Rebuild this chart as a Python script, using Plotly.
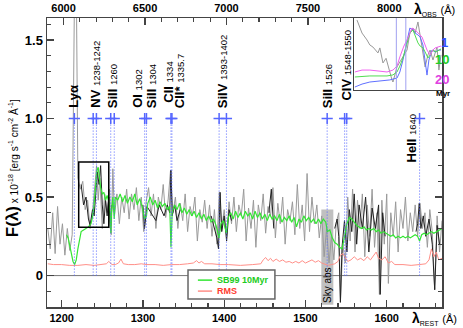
import plotly.graph_objects as go

ONE_PLUS_Z = 4.99  # observed / rest wavelength

# observed spectrum (grey), rest wavelength [A] and flux [1e-18 cgs]
wave_obs = [1183, 1186, 1189, 1192, 1195, 1198, 1201, 1204, 1207, 1210, 1213, 1216, 1218, 1220, 1223,
            1226, 1229, 1232, 1235, 1238, 1241, 1243, 1245, 1247, 1250, 1253, 1256, 1259, 1261, 1263,
            1265, 1268, 1271, 1274, 1277, 1280, 1283, 1286, 1289, 1292, 1295, 1298, 1301, 1304, 1307,
            1310, 1313, 1316, 1319, 1322, 1325, 1328, 1331, 1334, 1337, 1340, 1343, 1346, 1349, 1352,
            1355, 1358, 1361, 1364, 1367, 1370, 1373, 1376, 1379, 1382, 1385, 1388, 1391, 1394, 1397,
            1400, 1403, 1406, 1409, 1412, 1415, 1418, 1421, 1424, 1427, 1430, 1433, 1436, 1439, 1442,
            1445, 1448, 1451, 1454, 1457, 1460, 1463, 1466, 1469, 1472, 1475, 1478, 1481, 1484, 1487,
            1490, 1493, 1496, 1499, 1502, 1505, 1508, 1511, 1514, 1517, 1520, 1523, 1526, 1529, 1532,
            1535, 1538, 1541, 1543, 1546, 1549, 1552, 1555, 1558, 1561, 1564, 1567, 1570, 1573, 1576,
            1579, 1582, 1585, 1588, 1591, 1594, 1597, 1600, 1602, 1605, 1608, 1611, 1614, 1617, 1620,
            1623, 1626, 1629, 1632, 1635, 1638, 1641, 1644, 1647, 1650, 1653, 1656, 1659, 1662, 1665, 1668]
flux_obs = [0.30, 0.17, 0.40, 0.14, 0.44, 0.20, 0.33, 0.13, 0.30, 0.16, 0.26, 1.90, 1.90, 0.62, 0.55,
            0.60, 0.42, 0.48, 0.30, 0.40, 0.58, 0.70, 0.48, 0.62, 0.30, 0.52, 0.40, 0.55, 0.26, 0.68,
            0.38, 0.52, 0.33, 0.50, 0.40, 0.55, 0.36, 0.52, 0.42, 0.56, 0.35, 0.50, 0.28, 0.47, 0.56,
            0.38, 0.52, 0.30, 0.50, 0.42, 0.58, 0.37, 0.48, 0.67, 0.40, 0.50, 0.30, 0.46, 0.35, 0.52,
            0.28, 0.44, 0.38, 0.50, 0.22, 0.42, 0.34, 0.48, 0.30, 0.45, 0.25, 0.42, 0.20, 0.53, 0.30,
            0.42, 0.25, 0.47, 0.33, 0.50, 0.28, 0.45, 0.38, 0.55, 0.22, 0.43, 0.30, 0.48, 0.18, 0.45,
            0.35, 0.52, 0.27, 0.44, 0.38, 0.56, 0.24, 0.46, 0.33, 0.50, 0.20, 0.42, 0.35, 0.47, 0.26,
            0.58, 0.30, 0.45, 0.22, 0.65, 0.28, 0.50, 0.33, 0.45, 0.24, 0.38, 0.12, 0.30, 0.08, 0.25,
            0.10, 0.34, 0.40, -0.17, 0.20, 0.08, 0.50, 0.22, 0.55, 0.15, 0.48, 0.30, 0.52, 0.12, 0.45,
            0.25, 0.55, 0.18, 0.40, -0.12, 0.48, 0.20, 0.52, -0.05, 0.40, 0.25, 0.47, 0.15, 0.42, 0.30,
            0.50, 0.22, 0.40, 0.28, 0.45, 0.25, 0.46, 0.30, 0.40, 0.18, 0.42, 0.28, -0.09, 0.38, 0.15, 0.35]

# darker pieces of the spectrum (black), one list per stretch
blk_waves = [
    [1224, 1227, 1230, 1233, 1235, 1238, 1240, 1242, 1244, 1246, 1248, 1250, 1252, 1254, 1256, 1258, 1260, 1262],
    [1300, 1302, 1305, 1310, 1316, 1320, 1326, 1330, 1333, 1334.5, 1336, 1339, 1342, 1346],
    [1384, 1388, 1391, 1393, 1395, 1397, 1400, 1403, 1406, 1409],
    [1455, 1458, 1461],
    [1536, 1539, 1541, 1543, 1545, 1548, 1551, 1554, 1557, 1560, 1563, 1566, 1570, 1574, 1578, 1582,
     1586, 1590, 1592, 1595, 1598],
    [1636, 1638, 1640, 1642, 1645, 1648, 1652, 1656, 1659, 1662, 1665],
]
blk_fluxes = [
    [0.58, 0.45, 0.50, 0.36, 0.32, 0.42, 0.38, 0.55, 0.66, 0.58, 0.70, 0.45, 0.33, 0.48, 0.38, 0.50, 0.30, 0.45],
    [0.45, 0.30, 0.44, 0.40, 0.35, 0.45, 0.38, 0.45, 0.40, 0.67, 0.38, 0.45, 0.35, 0.42],
    [0.38, 0.30, 0.24, 0.17, 0.53, 0.28, 0.38, 0.22, 0.42, 0.35],
    [0.40, 0.55, 0.30],
    [0.30, 0.36, 0.25, -0.17, 0.18, 0.35, 0.15, 0.42, 0.28, 0.52, 0.20, 0.45, 0.30, 0.50, 0.15, 0.43,
     0.30, 0.45, -0.12, 0.40, 0.25],
    [0.28, 0.33, 0.46, 0.30, 0.38, 0.25, 0.36, 0.20, -0.09, 0.32, 0.20],
]

# Starburst99 10 Myr model
wave_sb99 = [1206, 1208, 1210, 1212, 1214, 1216, 1218, 1220, 1222, 1224, 1227, 1230, 1233, 1236, 1238,
             1240, 1242, 1243.5, 1245, 1246.5, 1248, 1250, 1252, 1254, 1256, 1258, 1259.5, 1260.5, 1261.5,
             1263, 1264.7, 1266, 1269, 1272, 1275, 1278, 1281, 1284, 1287, 1290, 1293, 1296, 1299, 1302,
             1304.4, 1306, 1309, 1312, 1315, 1318, 1321, 1324, 1327, 1330, 1333, 1334.5, 1336, 1339, 1342,
             1345, 1348, 1351, 1354, 1357, 1360, 1363, 1366, 1369, 1372, 1375, 1378, 1381, 1384, 1387,
             1390, 1393.7, 1396, 1399, 1402.7, 1405, 1408, 1411, 1414, 1417, 1420, 1423, 1426, 1429, 1432,
             1435, 1438, 1441, 1444, 1447, 1450, 1453, 1456, 1459, 1462, 1465, 1468, 1471, 1474, 1477,
             1480, 1483, 1486, 1489, 1492, 1495, 1498, 1501, 1504, 1507, 1510, 1513, 1516, 1519, 1522,
             1525, 1527, 1530, 1533, 1536, 1539, 1542, 1545, 1547, 1549, 1551, 1554, 1557, 1560, 1563,
             1566, 1569, 1572, 1575, 1578, 1581, 1584, 1587, 1590, 1593, 1596, 1599, 1602, 1605, 1608,
             1611, 1614, 1617, 1620, 1623, 1626, 1629, 1632, 1635, 1638, 1640.4, 1643, 1646, 1649, 1652,
             1655, 1658, 1661, 1664, 1668]
flux_sb99 = [0.26, 0.24, 0.19, 0.13, 0.09, 0.07, 0.10, 0.17, 0.24, 0.28, 0.29, 0.30, 0.31, 0.33, 0.37,
             0.46, 0.58, 0.67, 0.69, 0.63, 0.56, 0.52, 0.53, 0.48, 0.51, 0.47, 0.40, 0.27, 0.42,
             0.50, 0.36, 0.50, 0.48, 0.52, 0.47, 0.51, 0.46, 0.50, 0.47, 0.52, 0.45, 0.49, 0.44, 0.36,
             0.38, 0.46, 0.50, 0.45, 0.48, 0.43, 0.47, 0.44, 0.46, 0.42, 0.44, 0.18, 0.40, 0.45, 0.42,
             0.46, 0.40, 0.43, 0.39, 0.42, 0.38, 0.41, 0.37, 0.40, 0.36, 0.39, 0.35, 0.38, 0.34, 0.36,
             0.32, 0.24, 0.33, 0.35, 0.27, 0.37, 0.40, 0.36, 0.41, 0.37, 0.40, 0.36, 0.41, 0.38, 0.40,
             0.36, 0.41, 0.37, 0.40, 0.36, 0.39, 0.35, 0.39, 0.36, 0.38, 0.35, 0.39, 0.34, 0.37, 0.35,
             0.38, 0.34, 0.37, 0.31, 0.36, 0.34, 0.38, 0.35, 0.37, 0.34, 0.36, 0.33, 0.36, 0.33, 0.36,
             0.34, 0.28, 0.29, 0.24, 0.21, 0.20, 0.18, 0.17, 0.22, 0.28, 0.33, 0.37, 0.36, 0.34, 0.32,
             0.31, 0.30, 0.31, 0.29, 0.30, 0.29, 0.30, 0.28, 0.29, 0.27, 0.28, 0.27, 0.26, 0.25, 0.26,
             0.24, 0.25, 0.24, 0.25, 0.24, 0.25, 0.24, 0.25, 0.26, 0.25, 0.22, 0.26, 0.27, 0.26, 0.27,
             0.28, 0.27, 0.28, 0.29, 0.30]

# RMS of the spectrum
wave_rms = [1183, 1190, 1200, 1210, 1220, 1230, 1240, 1250, 1255, 1258, 1262, 1266, 1270, 1273, 1276,
            1282, 1290, 1298, 1305, 1315, 1325, 1335, 1345, 1355, 1362, 1366, 1369, 1372, 1376, 1385,
            1395, 1405, 1420, 1435, 1445, 1448, 1451, 1454, 1457, 1460, 1464, 1468, 1472, 1476, 1480,
            1484, 1488, 1492, 1496, 1500, 1504, 1508, 1512, 1516, 1520, 1524, 1528, 1532, 1536, 1540,
            1543, 1546, 1549, 1552, 1556, 1560, 1564, 1568, 1572, 1576, 1580, 1584, 1587, 1590, 1594,
            1598, 1602, 1606, 1610, 1620, 1630, 1640, 1648, 1652, 1655, 1658, 1661, 1664, 1668]
flux_rms = [0.075, 0.07, 0.07, 0.065, 0.065, 0.07, 0.065, 0.07, 0.075, 0.09, 0.07, 0.07, 0.08, 0.105, 0.075,
            0.07, 0.07, 0.075, 0.07, 0.07, 0.065, 0.07, 0.07, 0.075, 0.08, 0.095, 0.08, 0.09, 0.075, 0.075,
            0.07, 0.07, 0.065, 0.07, 0.075, 0.10, 0.115, 0.095, 0.11, 0.09, 0.105, 0.09, 0.10, 0.085, 0.09,
            0.08, 0.09, 0.08, 0.095, 0.08, 0.09, 0.10, 0.085, 0.095, 0.08, 0.07, 0.065, 0.07, 0.075, 0.09,
            0.13, 0.14, 0.11, 0.09, 0.10, 0.12, 0.10, 0.11, 0.095, 0.12, 0.10, 0.13, 0.15, 0.11, 0.10,
            0.12, 0.08, 0.09, 0.07, 0.07, 0.065, 0.07, 0.075, 0.10, 0.17, 0.12, 0.15, 0.10, 0.11]

# interstellar / stellar lines (rest wavelength)
line_waves = [1215.67, 1238.82, 1242.80, 1260.42, 1264.74, 1302.17, 1304.37, 1334.53, 1335.71,
              1393.76, 1402.77, 1526.71, 1548.20, 1550.78, 1640.42]
label_names = ["Lyα", "NV", "SiII", "OI", "SiII", "CII", "CII*", "SiIV", "SiII", "CIV", "HeII"]
label_nums = ["", "1238-1242", "1260", "1302", "1304", "1334", "1335.7", "1393-1402", "1526", "1548-1550", "1640"]
label_x = [1214.4, 1241.5, 1263.6, 1293.2, 1311.6, 1331.3, 1346.0, 1399.0, 1527.0, 1550.2, 1630.2]
label_y = [1.055, 1.055, 1.055, 1.055, 1.055, 1.087, 1.055, 1.055, 1.055, 1.10, 0.706]

sky_band = [1519.5, 1534.3]
zoom_box_x = [1221.0, 1258.0]
zoom_box_y = [0.307, 0.723]

# inset: zoom on NV for 1, 10, 20 Myr models
in_wave_obs = [1222.3, 1224.4, 1226.5, 1227.7, 1229.0, 1231.1, 1231.9, 1233.2, 1234.5, 1235.7, 1237.0,
               1237.4, 1239.1, 1240.3, 1241.6, 1243.3, 1244.5, 1245.8, 1246.7, 1247.9, 1249.6, 1250.9,
               1252.1, 1253.0, 1254.2, 1255.9, 1256.7, 1257.6]
in_flux_obs = [0.711, 0.636, 0.596, 0.567, 0.555, 0.521, 0.55, 0.463, 0.49, 0.422, 0.365,
               0.353, 0.44, 0.469, 0.498, 0.538, 0.636, 0.665, 0.636, 0.70, 0.555, 0.44,
               0.51, 0.538, 0.48, 0.555, 0.422, 0.51]
in_wave_1 = [1221.4, 1224.4, 1227.7, 1231.9, 1236.1, 1239.1, 1240.3, 1241.6, 1242.9, 1244.5, 1245.8,
             1246.7, 1247.9, 1248.8, 1250.0, 1250.9, 1251.7, 1252.5, 1253.8, 1255.1, 1256.7, 1257.6]
in_flux_1 = [0.324, 0.341, 0.353, 0.359, 0.365, 0.376, 0.411, 0.480, 0.567, 0.665, 0.654,
             0.636, 0.625, 0.613, 0.567, 0.480, 0.393, 0.480, 0.538, 0.527, 0.538, 0.538]
in_wave_10 = [1221.4, 1227.7, 1234.9, 1237.4, 1239.1, 1240.3, 1241.6, 1242.8, 1244.5, 1245.8, 1246.7,
              1247.9, 1248.8, 1250.0, 1250.9, 1252.1, 1253.0, 1254.2, 1255.5, 1256.7, 1257.6]
in_flux_10 = [0.382, 0.388, 0.388, 0.394, 0.411, 0.445, 0.492, 0.550, 0.636, 0.654, 0.619,
              0.579, 0.561, 0.550, 0.527, 0.492, 0.509, 0.538, 0.527, 0.538, 0.544]
in_wave_20 = [1221.4, 1224.4, 1227.7, 1231.9, 1234.9, 1237.4, 1239.1, 1240.3, 1242.0, 1243.3, 1244.5,
              1245.4, 1246.7, 1247.5, 1248.8, 1249.6, 1250.9, 1251.7, 1253.0, 1254.2, 1255.1, 1256.7, 1257.6]
in_flux_20 = [0.411, 0.422, 0.422, 0.417, 0.411, 0.422, 0.445, 0.498, 0.561, 0.596, 0.642,
              0.665, 0.654, 0.642, 0.625, 0.613, 0.567, 0.538, 0.509, 0.538, 0.55, 0.555, 0.561]
in_vlines = [1238.82, 1242.80]

FONT = "Liberation Sans, Arial, sans-serif"
BLUE = "#5566ff"
GREEN = "#33e633"
RED = "#ff8f88"
AXC = "#444444"

fig = go.Figure()

# join the black stretches with gaps
blk_x, blk_y = [], []
for xs, ys in zip(blk_waves, blk_fluxes):
    blk_x += xs + [None]
    blk_y += ys + [None]

fig.add_trace(go.Scatter(x=wave_obs, y=flux_obs, mode="lines", line=dict(color="#9a9a9a", width=1)))
fig.add_trace(go.Scatter(x=blk_x, y=blk_y, mode="lines", line=dict(color="#222222", width=1), connectgaps=False))
fig.add_trace(go.Scatter(x=wave_rms, y=flux_rms, mode="lines", line=dict(color=RED, width=1)))
fig.add_trace(go.Scatter(x=wave_sb99, y=flux_sb99, mode="lines", line=dict(color=GREEN, width=1.2)))

# dotted line markers from 0 up to 1.0
vx, vy = [], []
for w in line_waves:
    vx += [w, w, None]
    vy += [0, 1.0, None]
fig.add_trace(go.Scatter(x=vx, y=vy, mode="lines", line=dict(color=BLUE, width=1, dash="1px,2px")))
fig.add_trace(go.Scatter(x=line_waves, y=[1.0] * len(line_waves), mode="markers",
                         marker=dict(symbol="cross-thin", size=8, line=dict(color=BLUE, width=1.5))))

# observed-frame axis carrier
fig.add_trace(go.Scatter(x=[wave_obs[0] * ONE_PLUS_Z], y=[None], xaxis="x2", yaxis="y", showlegend=False))

# inset traces
fig.add_trace(go.Scatter(x=in_wave_obs, y=in_flux_obs, mode="lines", line=dict(color="#999999", width=1),
                         xaxis="x3", yaxis="y3"))
fig.add_trace(go.Scatter(x=in_wave_1, y=in_flux_1, mode="lines", line=dict(color="#6070ff", width=1),
                         xaxis="x3", yaxis="y3"))
fig.add_trace(go.Scatter(x=in_wave_10, y=in_flux_10, mode="lines", line=dict(color="#50dd50", width=1),
                         xaxis="x3", yaxis="y3"))
fig.add_trace(go.Scatter(x=in_wave_20, y=in_flux_20, mode="lines", line=dict(color="#f060f0", width=1),
                         xaxis="x3", yaxis="y3"))

rest_range = [1182, 1668]

shapes = [
    dict(type="line", xref="x domain", yref="y", x0=0, x1=1, y0=0, y1=0, line=dict(color="#777777", width=1),
         layer="below"),
    dict(type="rect", xref="x", yref="y", x0=sky_band[0], x1=sky_band[1], y0=-0.185, y1=0.42,
         fillcolor="rgba(150,150,150,0.6)", line=dict(width=0), layer="below"),
    dict(type="rect", xref="x", yref="y", x0=zoom_box_x[0], x1=zoom_box_x[1], y0=zoom_box_y[0],
         y1=zoom_box_y[1], line=dict(color="black", width=1.5)),
    # legend box
    dict(type="rect", xref="paper", yref="paper", x0=0.357, x1=0.577, y0=0.028, y1=0.128,
         fillcolor="white", line=dict(color="#666666", width=1.5), layer="above"),
    dict(type="line", xref="paper", yref="paper", x0=0.382, x1=0.418, y0=0.093, y1=0.093,
         line=dict(color=GREEN, width=1.5), layer="above"),
    dict(type="line", xref="paper", yref="paper", x0=0.382, x1=0.418, y0=0.055, y1=0.055,
         line=dict(color=RED, width=1.5), layer="above"),
]
for w in in_vlines:
    shapes.append(dict(type="line", xref="x3", yref="y3 domain", x0=w, x1=w, y0=0, y1=1,
                       line=dict(color="#a0a0f0", width=1)))

ann = []
for name, num, lx, ly in zip(label_names, label_nums, label_x, label_y):
    txt = "<b>%s</b>" % name
    if num:
        txt += " <span style='font-size:9.5px'>%s</span>" % num
    ann.append(dict(x=lx, y=ly, xref="x", yref="y", text=txt, textangle=-90, showarrow=False,
                    xanchor="center", yanchor="bottom", font=dict(family=FONT, size=13, color="black")))

ann += [
    dict(x=sum(sky_band) / 2, y=-0.185, xref="x", yref="y", text="Sky abs", textangle=-90, showarrow=False,
         xanchor="center", yanchor="bottom", font=dict(family=FONT, size=10, color="black")),
    dict(x=0.425, y=0.093, xref="paper", yref="paper", text="<b>SB99 10Myr</b>", showarrow=False,
         xanchor="left", yanchor="middle", font=dict(family=FONT, size=9, color="#22cc22")),
    dict(x=0.425, y=0.055, xref="paper", yref="paper", text="<b>RMS</b>", showarrow=False,
         xanchor="left", yanchor="middle", font=dict(family=FONT, size=9, color="#ff3b30")),
    dict(x=-0.089, y=0.48, xref="paper", yref="paper", textangle=-90, showarrow=False,
         xanchor="center", yanchor="middle",
         text="<b>F(λ)</b><span style='font-size:10px'> x 10<sup>-18</sup> [erg s<sup>-1</sup> cm<sup>-2</sup> Å<sup>-1</sup>]</span>",
         font=dict(family=FONT, size=17, color="black")),
    dict(x=0.925, y=1.028, xref="paper", yref="paper", showarrow=False, xanchor="left", yanchor="middle",
         text="<b>λ</b><sub><span style='font-size:7px'>OBS</span></sub> <span style='font-size:11px'>(Å)</span>",
         font=dict(family=FONT, size=14, color="black")),
    dict(x=0.918, y=-0.04, xref="paper", yref="paper", showarrow=False, xanchor="left", yanchor="middle",
         text="<b>λ</b><sub><span style='font-size:7px'>REST</span></sub> <span style='font-size:11px'>(Å)</span>",
         font=dict(family=FONT, size=14, color="black")),
    # inset age key
    dict(x=1.02, y=0.948, xref="paper", yref="paper", text="<b>1</b>", showarrow=False,
         font=dict(family=FONT, size=13, color="#3050ff")),
    dict(x=1.024, y=0.889, xref="paper", yref="paper", text="<b>10</b>", showarrow=False,
         font=dict(family=FONT, size=13, color="#22cc22")),
    dict(x=1.024, y=0.820, xref="paper", yref="paper", text="<b>20</b>", showarrow=False,
         font=dict(family=FONT, size=13, color="#e040e0")),
    dict(x=1.026, y=0.761, xref="paper", yref="paper", text="<b>Myr</b>", showarrow=False,
         font=dict(family=FONT, size=8, color="black")),
]

tick_common = dict(ticks="inside", showline=True, linecolor=AXC, linewidth=1.5, tickcolor=AXC,
                   showgrid=False, zeroline=False, automargin=False)

fig.update_layout(
    template="none",
    width=463, height=328, autosize=False,
    margin=dict(l=47, r=21, t=18, b=21, pad=0),
    paper_bgcolor="white", plot_bgcolor="white",
    showlegend=False,
    xaxis=dict(range=rest_range, tickvals=[1200, 1300, 1400, 1500, 1600], ticklen=7, tickwidth=1.2,
               minor=dict(dtick=20, tick0=1200, ticklen=4, ticks="inside", tickcolor=AXC, showgrid=False),
               tickfont=dict(family=FONT, size=11, color="black", weight="bold"), **tick_common),
    xaxis2=dict(range=[rest_range[0] * ONE_PLUS_Z, rest_range[1] * ONE_PLUS_Z], overlaying="x", side="top",
                anchor="y", tickvals=[6000, 6500, 7000, 7500, 8000], ticklen=7, tickwidth=1.2,
                minor=dict(dtick=100, tick0=6000, ticklen=4, ticks="inside", tickcolor=AXC, showgrid=False),
                tickfont=dict(family=FONT, size=11, color="black", weight="bold"), **tick_common),
    yaxis=dict(range=[-0.2, 1.64], tickvals=[0, 0.5, 1.0, 1.5], ticktext=["0", "0.5", "1.0", "1.5"],
               ticklen=7, tickwidth=1.2, mirror="ticks",
               minor=dict(dtick=0.1, tick0=0, ticklen=4, ticks="inside", tickcolor=AXC, showgrid=False),
               tickfont=dict(family=FONT, size=13, color="black", weight="bold"), **tick_common),
    xaxis3=dict(domain=[0.777, 1.0], anchor="y3", range=zoom_box_x, showticklabels=False, ticks="",
                showline=True, mirror=True, linecolor=AXC, linewidth=1, showgrid=False, zeroline=False,
                automargin=False),
    yaxis3=dict(domain=[0.751, 1.0], anchor="x3", range=zoom_box_y, showticklabels=False, ticks="",
                showline=True, mirror=True, linecolor=AXC, linewidth=1, showgrid=False, zeroline=False,
                automargin=False),
    shapes=shapes,
    annotations=ann,
)

# the page body has a default 8px margin; drop it so the figure sits at the window corner
fig.write_html("out.html", config={"displayModeBar": False, "staticPlot": True},
               post_script="document.body.style.margin='0px';document.body.style.overflow='hidden';")
